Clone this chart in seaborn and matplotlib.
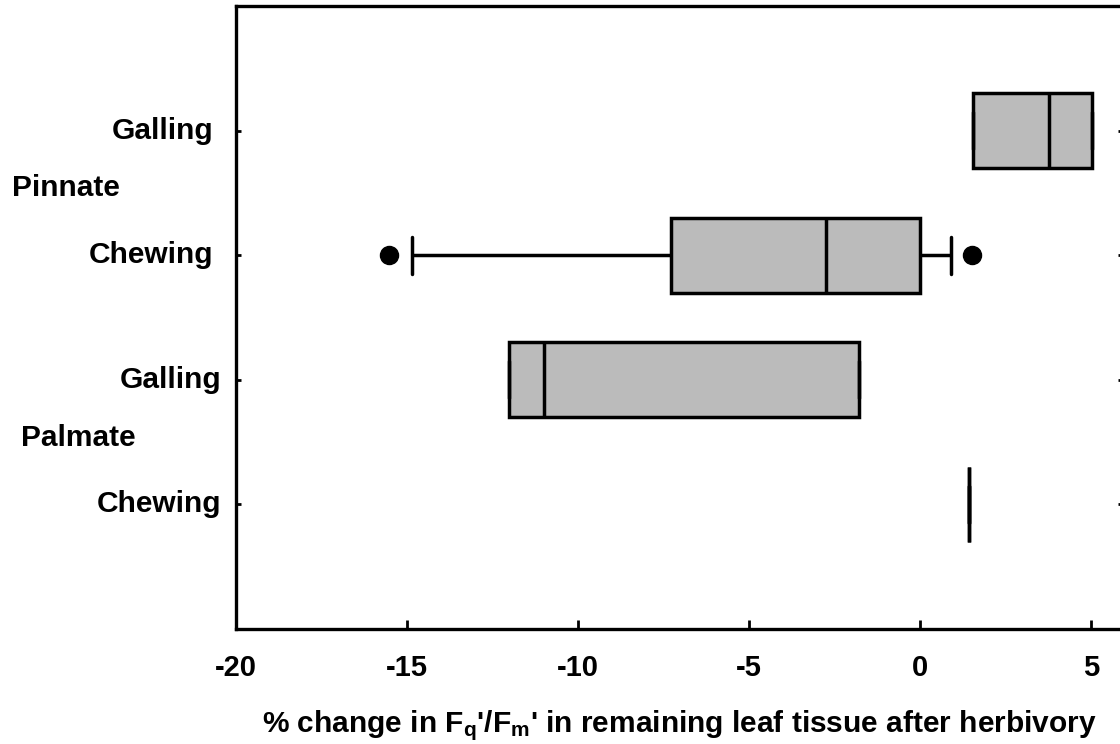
import matplotlib
matplotlib.use("Agg")
import matplotlib.pyplot as plt
import seaborn as sns
import pandas as pd

# ---- data ----
categories = ["Pinnate Galling", "Pinnate Chewing", "Palmate Galling", "Palmate Chewing"]
tick_labels = ["Galling", "Chewing", "Galling", "Chewing"]
group_labels = ["Pinnate", "Palmate"]

pinnate_galling = [1.55, 1.55, 3.77, 5.02, 5.02]
pinnate_chewing = [-15.53, -14.84, -7.6, -6.36, -3.4, -2.12, -0.3, 0.1, 0.9, 1.52]
palmate_galling = [-12.02, -12.02, -11.0, -1.78, -1.78]
palmate_chewing = [1.43]

xticks = [-20, -15, -10, -5, 0, 5]

values = pinnate_galling + pinnate_chewing + palmate_galling + palmate_chewing
groups = ([categories[0]] * len(pinnate_galling) + [categories[1]] * len(pinnate_chewing)
          + [categories[2]] * len(palmate_galling) + [categories[3]] * len(palmate_chewing))
df = pd.DataFrame({"value": values, "group": groups})

sns.set_theme(style="white")
plt.rcParams["font.family"] = ["Liberation Sans", "DejaVu Sans"]
plt.rcParams["font.weight"] = "bold"
plt.rcParams["text.color"] = "black"
plt.rcParams["axes.labelcolor"] = "black"
plt.rcParams["xtick.color"] = "black"
plt.rcParams["ytick.color"] = "black"
plt.rcParams["mathtext.fontset"] = "custom"
plt.rcParams["mathtext.rm"] = "Liberation Sans:bold"
plt.rcParams["mathtext.it"] = "Liberation Sans:bold"
plt.rcParams["mathtext.bf"] = "Liberation Sans:bold"
plt.rcParams["mathtext.default"] = "rm"

fig = plt.figure(figsize=(11.2, 7.44), dpi=100)
W, H = 1120, 744
left_px, right_px, top_px, bottom_px = 236, 1122.5, 6, 629
ax = fig.add_axes([left_px / W, (H - bottom_px) / H, (right_px - left_px) / W, (bottom_px - top_px) / H])

sns.boxplot(data=df, x="value", y="group", order=categories, orient="h", ax=ax,
            whis=(10, 90), color="#bbbbbb", saturation=1, linecolor="black",
            linewidth=2.5, width=0.6, fliersize=13,
            flierprops=dict(marker="o", markerfacecolor="black", markeredgecolor="black"))

ax.set_xlim(-20, 5.92)
ax.set_ylim(4, -1)
ax.set_xticks(xticks)
ax.set_xticklabels([str(t) for t in xticks], fontsize=21, fontweight="bold", color="black")
ax.set_yticks(range(len(categories)))
ax.set_yticklabels([""] * len(categories))
ax.tick_params(axis="x", direction="in", length=6.5, width=2, pad=18, colors="black", bottom=True)
ax.tick_params(axis="y", direction="in", length=3.5, width=2, left=True, right=True, colors="black")
for s in ax.spines.values():
    s.set_linewidth(2.4)
    s.set_color("black")

ytr = ax.get_yaxis_transform()
label_x = [-0.026, -0.026, -0.017, -0.017]
for i, (lab, lx) in enumerate(zip(tick_labels, label_x)):
    ax.text(lx, i, lab, transform=ytr, ha="right", va="center", fontsize=21.5,
            fontweight="bold", color="black")
ax.text(-0.253, 0.46, group_labels[0], transform=ytr, ha="left", va="center", fontsize=21.5,
        fontweight="bold", color="black")
ax.text(-0.243, 2.47, group_labels[1], transform=ytr, ha="left", va="center", fontsize=21.5,
        fontweight="bold", color="black")

ax.set_ylabel("")
ax.set_xlabel("% change in F$_{q}$'/F$_{m}$' in remaining leaf tissue after herbivory",
              fontsize=21.5, fontweight="bold", labelpad=19, color="black")

fig.savefig("out.png", dpi=100)
